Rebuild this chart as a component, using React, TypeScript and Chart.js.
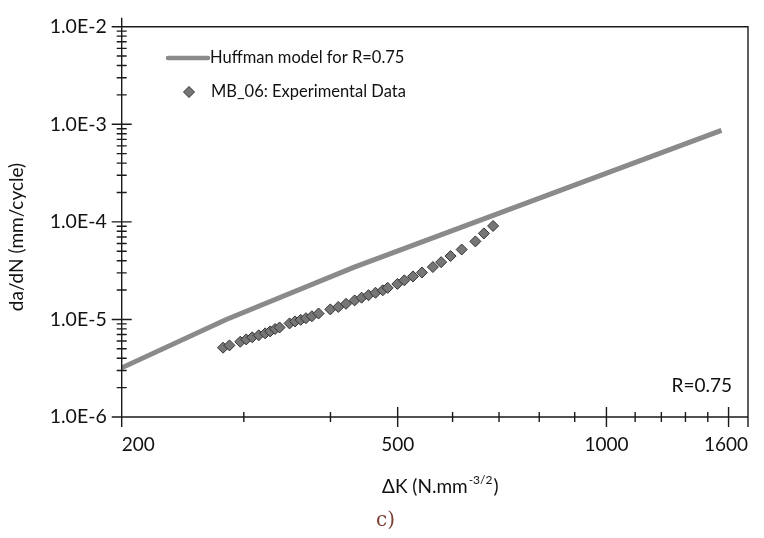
import React, { useEffect, useRef } from "react";
import { Chart, registerables } from "chart.js";

Chart.register(...registerables);

// Huffman model (R = 0.75)
const modelDeltaK = [200, 283, 432, 1465];
const modelDadN = [3.19e-6, 1.0e-5, 3.41e-5, 8.65e-4];

// MB_06 experimental data
const expDeltaK = [
  280, 286, 296.5, 302.4, 308.5, 315.2, 322.0, 327.4, 332.8, 337.8,
  349.2, 355.6, 362.3, 368.7, 376.1, 384.5, 399.8, 410.5, 421.2, 433.4,
  443.6, 453.9, 464.5, 475.8, 483.7, 499.5, 511.2, 526.1, 541.9, 562.0,
  577.6, 596.0, 618.4, 647.2, 665.7, 686.4,
];
const expDadN = [
  5.13e-6, 5.42e-6, 5.91e-6, 6.24e-6, 6.56e-6, 6.87e-6, 7.2e-6, 7.54e-6, 7.98e-6, 8.27e-6,
  9.11e-6, 9.54e-6, 9.9e-6, 1.029e-5, 1.078e-5, 1.15e-5, 1.267e-5, 1.342e-5, 1.445e-5, 1.567e-5,
  1.671e-5, 1.771e-5, 1.876e-5, 1.987e-5, 2.105e-5, 2.309e-5, 2.515e-5, 2.758e-5, 3.025e-5, 3.443e-5,
  3.864e-5, 4.459e-5, 5.204e-5, 6.302e-5, 7.614e-5, 9.076e-5,
];

// Axes
const xMin = 200;
const xMax = 1600;
const xLabelTicks = [200, 500, 1000, 1600];
const xMajorTicks = [200, 500, 1000, 1500, 1600];
const xMinorTicks = [300, 400, 600, 700, 800, 900, 1100, 1200, 1300, 1400];
const yMin = 1e-6;
const yMax = 1e-2;
const yDecades = [1e-6, 1e-5, 1e-4, 1e-3, 1e-2];

const modelLabel = "Huffman model for R=0.75";
const expLabel = "MB_06: Experimental Data";
const rLabel = "R=0.75";
const yTitle = "da/dN (mm/cycle)";
const xTitleMain = "\u0394K (N.mm";
const xTitleSup = "-3/2";
const xTitleEnd = ")";
const panelLabel = "c)";

const FONT = "Lato, 'Open Sans', sans-serif";
const AXIS = "#1a1a1a";
const LINE = "#8a8a8a";
const MARK = "#767676";

const decor = {
  id: "decor",
  afterDraw(chart: any) {
    const ctx = chart.ctx as CanvasRenderingContext2D;
    const { left, right, top, bottom } = chart.chartArea;
    const xs = chart.scales.x;
    const ys = chart.scales.y;
    ctx.save();
    ctx.strokeStyle = AXIS;
    ctx.lineWidth = 1.4;
    ctx.beginPath();
    // frame
    ctx.moveTo(left, top - 9);
    ctx.lineTo(left, bottom);
    ctx.lineTo(right, bottom);
    ctx.moveTo(left, top);
    ctx.lineTo(right, top);
    ctx.lineTo(right, bottom);
    // y ticks
    yDecades.forEach((d) => {
      const y = ys.getPixelForValue(d);
      ctx.moveTo(left - 10, y);
      ctx.lineTo(left + 10, y);
      if (d < yMax) {
        for (let m = 2; m <= 9; m++) {
          const ym = ys.getPixelForValue(d * m);
          ctx.moveTo(left - 5, ym);
          ctx.lineTo(left + 5, ym);
        }
      }
    });
    // x ticks
    xMajorTicks.forEach((v) => {
      const x = xs.getPixelForValue(v);
      ctx.moveTo(x, bottom - 10);
      ctx.lineTo(x, bottom + 10);
    });
    xMinorTicks.forEach((v) => {
      const x = xs.getPixelForValue(v);
      ctx.moveTo(x, bottom - 5);
      ctx.lineTo(x, bottom + 5);
    });
    ctx.stroke();

    // legend
    ctx.strokeStyle = LINE;
    ctx.lineWidth = 4.5;
    ctx.lineCap = "round";
    ctx.beginPath();
    ctx.moveTo(168, 58);
    ctx.lineTo(208, 58);
    ctx.stroke();
    ctx.lineCap = "butt";
    ctx.fillStyle = MARK;
    ctx.strokeStyle = "#333";
    ctx.lineWidth = 1;
    ctx.beginPath();
    ctx.moveTo(189 - 5.5, 92);
    ctx.lineTo(189, 92 - 5.5);
    ctx.lineTo(189 + 5.5, 92);
    ctx.lineTo(189, 92 + 5.5);
    ctx.closePath();
    ctx.fill();
    ctx.stroke();

    ctx.fillStyle = "#111";
    ctx.textBaseline = "middle";
    ctx.textAlign = "left";
    ctx.font = `16.5px ${FONT}`;
    ctx.fillText(modelLabel, 210, 58);
    ctx.fillText(expLabel, 211, 92);

    ctx.font = `19px ${FONT}`;
    ctx.textAlign = "right";
    ctx.fillText(rLabel, 732, 386);

    // y title
    ctx.save();
    ctx.translate(17, 237);
    ctx.rotate(-Math.PI / 2);
    ctx.textAlign = "center";
    ctx.font = `19px ${FONT}`;
    ctx.fillText(yTitle, 0, 0);
    ctx.restore();

    // x title with superscript
    ctx.textAlign = "left";
    ctx.font = `19px ${FONT}`;
    let x = 382;
    const ty = 487;
    ctx.fillText(xTitleMain, x, ty);
    x += ctx.measureText(xTitleMain).width;
    ctx.font = `12px ${FONT}`;
    ctx.fillText(xTitleSup, x + 1, ty - 7);
    x += ctx.measureText(xTitleSup).width + 2;
    ctx.font = `19px ${FONT}`;
    ctx.fillText(xTitleEnd, x, ty);

    // panel label
    ctx.fillStyle = "#7a3e33";
    ctx.font = `20px 'DejaVu Serif', 'Liberation Serif', serif`;
    ctx.textAlign = "left";
    ctx.fillText(panelLabel, 376, 521);
    ctx.restore();
  },
};

export default function App() {
  const ref = useRef<HTMLCanvasElement | null>(null);

  useEffect(() => {
    document.body.style.margin = "0";
    const canvas = ref.current;
    if (!canvas) return;
    const chart = new Chart(canvas, {
      type: "line",
      data: {
        datasets: [
          {
            label: modelLabel,
            data: modelDeltaK.map((v, i) => ({ x: v, y: modelDadN[i] })),
            borderColor: LINE,
            borderWidth: 5,
            pointRadius: 0,
            fill: false,
            tension: 0,
            order: 2,
          },
          {
            label: expLabel,
            data: expDeltaK.map((v, i) => ({ x: v, y: expDadN[i] })),
            showLine: false,
            pointStyle: "rectRot",
            pointRadius: 5.5,
            pointBackgroundColor: MARK,
            pointBorderColor: "#333",
            pointBorderWidth: 1,
            order: 1,
          },
        ],
      },
      options: {
        responsive: false,
        devicePixelRatio: 1,
        animation: false,
        layout: { padding: { top: 18, right: 12, left: 0, bottom: 0 } },
        plugins: {
          legend: { display: false },
          tooltip: { enabled: false },
          title: { display: false },
        },
        scales: {
          x: {
            type: "logarithmic",
            min: xMin,
            max: xMax,
            grid: { display: false, drawTicks: false },
            border: { display: false },
            afterBuildTicks: (s: any) => {
              s.ticks = xLabelTicks.map((v) => ({ value: v }));
            },
            afterFit: (s: any) => {
              s.height = 121;
            },
            ticks: {
              autoSkip: false,
              maxRotation: 0,
              align: "inner",
              padding: 16,
              color: "#111",
              font: { family: FONT, size: 19 },
              callback: (v: any) => String(v),
            },
          },
          y: {
            type: "logarithmic",
            min: yMin,
            max: yMax,
            grid: { display: false, drawTicks: false },
            border: { display: false },
            afterBuildTicks: (s: any) => {
              s.ticks = yDecades.map((v) => ({ value: v }));
            },
            afterFit: (s: any) => {
              s.width = 121.7;
            },
            ticks: {
              autoSkip: false,
              padding: 15,
              color: "#111",
              font: { family: FONT, size: 19.5 },
              callback: (v: any) => Number(v).toExponential(1).toUpperCase(),
            },
          },
        },
      },
      plugins: [decor],
    });
    return () => chart.destroy();
  }, []);

  return (
    <div style={{ position: "absolute", left: 0, top: 0, width: 764, height: 538, background: "#fff" }}>
      <canvas ref={ref} width={764} height={538} style={{ width: 764, height: 538 }} />
    </div>
  );
}
